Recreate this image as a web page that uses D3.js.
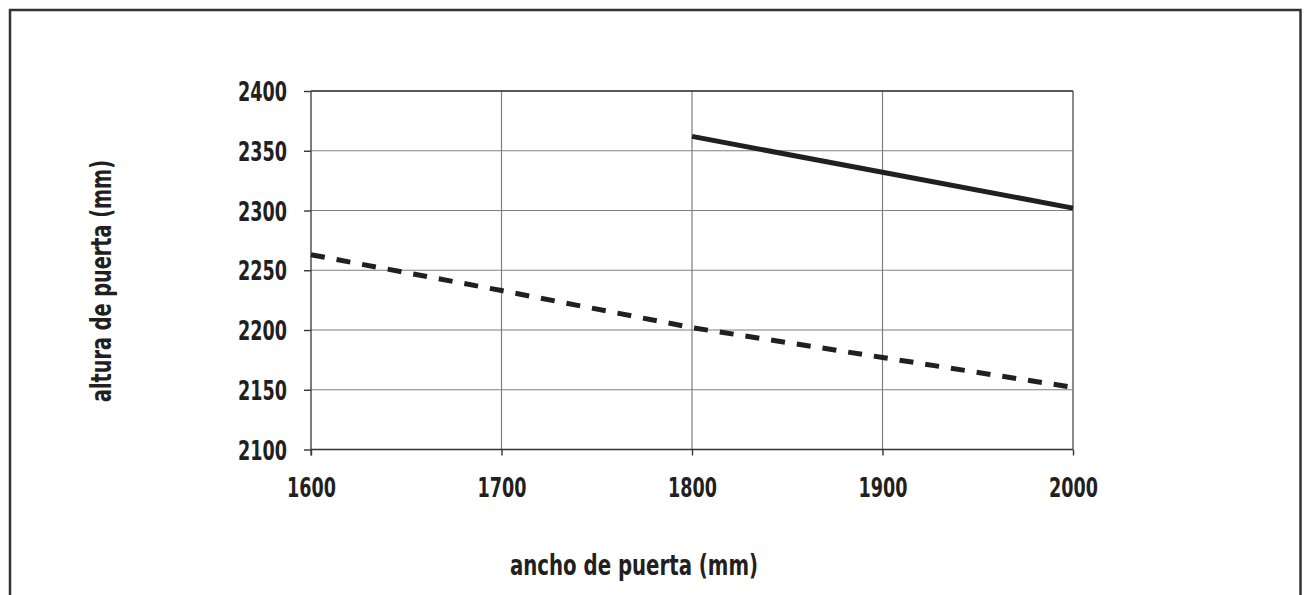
<!DOCTYPE html>
<html>
<head>
<meta charset="utf-8">
<script src="https://cdn.jsdelivr.net/npm/d3@7"></script>
<style>
  html, body { margin: 0; padding: 0; background: #fff; }
  svg { display: block; }
  .lbl { font-family: "DejaVu Sans Condensed", "Open Sans", "Liberation Sans", sans-serif; font-weight: bold; fill: #231f20; }
</style>
</head>
<body>
<svg id="chart" width="1309" height="595"></svg>
<script>
// Door width (mm) on the x axis, door height (mm) on the y axis
const widths = [1600, 1700, 1800, 1900, 2000];
const xTicks = [1600, 1700, 1800, 1900, 2000];
const yTicks = [2100, 2150, 2200, 2250, 2300, 2350, 2400];

// Upper limit, only defined from 1800 mm onwards (solid line)
const upperWidths = [1800, 1900, 2000];
const upperHeights = [2362, 2332, 2302];

// Lower limit across the full width range (dashed line)
const lowerHeights = [2263, 2233, 2202, 2177, 2152];

const xTitle = "ancho de puerta (mm)";
const yTitle = "altura de puerta (mm)";

const svg = d3.select("#chart");
const ink = "#231f20";

// outer frame (open at the bottom edge)
svg.append("rect")
  .attr("x", 10).attr("y", 10)
  .attr("width", 1290.5).attr("height", 620)
  .attr("fill", "none").attr("stroke", "#333").attr("stroke-width", 2.5);

const x = d3.scaleLinear().domain([1600, 2000]).range([311, 1073]);
const y = d3.scaleLinear().domain([2100, 2400]).range([449.5, 91]);

// grid
const grid = svg.append("g");
grid.selectAll("line.h").data(yTicks.filter(v => v > 2100 && v < 2400)).join("line")
  .attr("x1", x(1600)).attr("x2", x(2000))
  .attr("y1", d => y(d)).attr("y2", d => y(d))
  .attr("stroke", "#7f7f7f").attr("stroke-width", 1.2);
grid.selectAll("line.v").data(xTicks.filter(v => v > 1600)).join("line")
  .attr("x1", d => x(d)).attr("x2", d => x(d))
  .attr("y1", y(2400)).attr("y2", y(2100))
  .attr("stroke", d => d === 2000 ? "#6f6f6f" : "#7f7f7f").attr("stroke-width", d => d === 2000 ? 1.6 : 1.2);
grid.append("line")
  .attr("x1", x(1600)).attr("x2", x(2000))
  .attr("y1", y(2400)).attr("y2", y(2400))
  .attr("stroke", "#222").attr("stroke-width", 1.4);

// axes
const yAxis = svg.append("g")
  .attr("transform", `translate(${x(1600)},0)`)
  .call(d3.axisLeft(y).tickValues(yTicks).tickSize(7).tickPadding(17).tickFormat(d3.format("d")));
const xAxis = svg.append("g")
  .attr("transform", `translate(0,${y(2100)})`)
  .call(d3.axisBottom(x).tickValues(xTicks).tickSize(6).tickPadding(22).tickFormat(d3.format("d")));

[yAxis, xAxis].forEach(g => {
  g.select(".domain").remove();
  g.selectAll(".tick line").attr("stroke", "#333").attr("stroke-width", 1.4);
  g.selectAll(".tick text").attr("class", "lbl").attr("font-size", 27).attr("fill", ink)
    .attr("textLength", 49).attr("lengthAdjust", "spacingAndGlyphs");
});
yAxis.selectAll(".tick text").attr("dy", "0.36em");
// axis lines
svg.append("line")
  .attr("x1", x(1600)).attr("x2", x(1600))
  .attr("y1", y(2400)).attr("y2", y(2100) + 6)
  .attr("stroke", "#444").attr("stroke-width", 1.4);
svg.append("line")
  .attr("x1", x(1600)).attr("x2", x(2000))
  .attr("y1", y(2100)).attr("y2", y(2100))
  .attr("stroke", "#333").attr("stroke-width", 1.4);

// series
const line = d3.line().x(d => x(d[0])).y(d => y(d[1]));
svg.append("path")
  .datum(widths.map((w, i) => [w, lowerHeights[i]]))
  .attr("d", line)
  .attr("fill", "none").attr("stroke", ink).attr("stroke-width", 5)
  .attr("stroke-dasharray", "14,12");
svg.append("path")
  .datum(upperWidths.map((w, i) => [w, upperHeights[i]]))
  .attr("d", line)
  .attr("fill", "none").attr("stroke", ink).attr("stroke-width", 5);

// axis titles
svg.append("text").attr("class", "lbl")
  .attr("x", 634).attr("y", 575)
  .attr("text-anchor", "middle").attr("font-size", 29)
  .attr("textLength", 248).attr("lengthAdjust", "spacingAndGlyphs")
  .text(xTitle);
svg.append("text").attr("class", "lbl")
  .attr("transform", "translate(111,281) rotate(-90)")
  .attr("text-anchor", "middle").attr("font-size", 29)
  .attr("textLength", 242).attr("lengthAdjust", "spacingAndGlyphs")
  .text(yTitle);
</script>
</body>
</html>
